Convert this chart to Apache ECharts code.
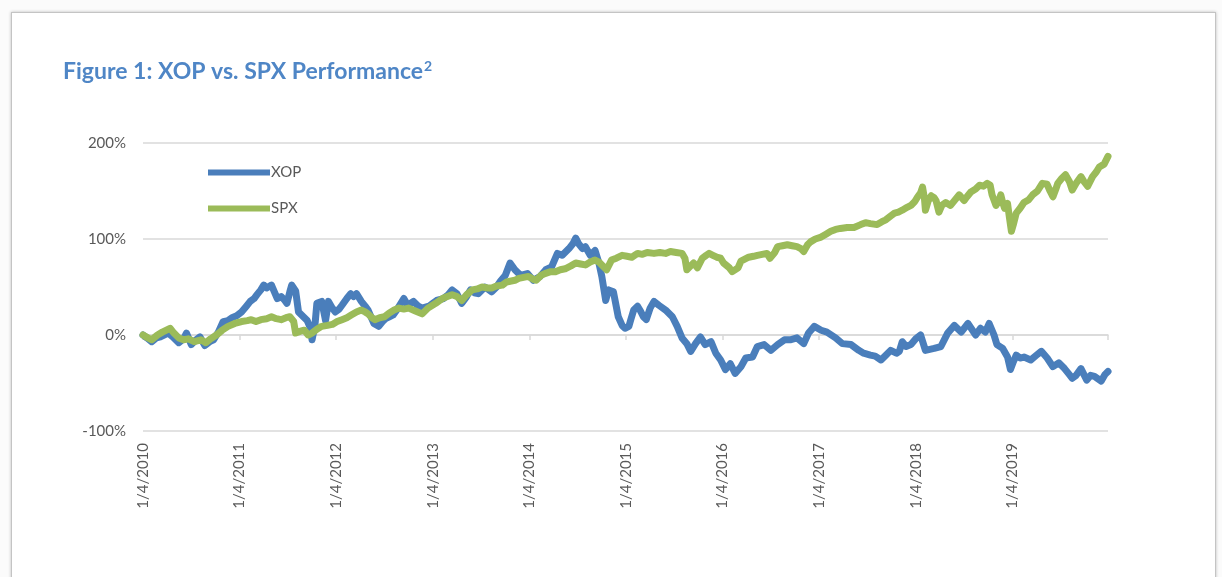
<!DOCTYPE html>
<html>
<head>
<meta charset="utf-8">
<script src="https://cdn.jsdelivr.net/npm/echarts@6/dist/echarts.min.js"></script>
<style>
  html, body { margin: 0; padding: 0; background: #fbfbfb; overflow: hidden; }
  .page {
    position: absolute; left: 11px; top: 12px; right: 6px; bottom: -8px;
    background: #fff; border: 1px solid #c4c4c4;
    box-shadow: 0 0 3px rgba(0, 0, 0, 0.25);
  }
  #chart { position: absolute; left: 0; top: 0; width: 1222px; height: 577px; }
</style>
</head>
<body>
<div class="page"></div>
<div id="chart"></div>
<script>
// x is years since 1/4/2010, y is cumulative return in %
const tickLabels = ['1/4/2010', '1/4/2011', '1/4/2012', '1/4/2013', '1/4/2014',
  '1/4/2015', '1/4/2016', '1/4/2017', '1/4/2018', '1/4/2019']

const xopPoints = [
  [0, 0], [0.04, -3], [0.09, -7], [0.14, -3], [0.18, -2], [0.26, 2], [0.31, -2], [0.37, -8],
  [0.42, -4], [0.45, 2], [0.5, -10], [0.55, -5], [0.59, -2], [0.64, -11], [0.69, -7], [0.73, -5],
  [0.78, 3], [0.83, 14], [0.88, 15], [0.92, 18], [0.97, 20], [1.02, 24], [1.07, 30], [1.11, 35],
  [1.15, 38], [1.18, 42], [1.22, 47], [1.25, 52], [1.28, 49], [1.30, 47], [1.33, 52], [1.36, 45],
  [1.39, 38], [1.43, 40], [1.46, 37], [1.49, 33], [1.52, 45], [1.54, 52], [1.58, 46], [1.61, 24],
  [1.66, 19], [1.70, 15], [1.73, 8], [1.75, -5], [1.78, 10], [1.80, 33], [1.85, 35], [1.89, 15],
  [1.92, 35], [1.96, 28], [1.99, 24], [2.03, 27], [2.06, 31], [2.11, 38], [2.15, 43], [2.18, 40],
  [2.21, 43], [2.26, 35], [2.30, 30], [2.33, 26], [2.39, 12], [2.44, 9], [2.48, 14], [2.51, 17],
  [2.55, 19], [2.59, 21], [2.64, 28], [2.70, 38], [2.74, 31], [2.80, 35], [2.85, 30], [2.89, 28],
  [2.96, 30], [3.00, 33], [3.04, 36], [3.11, 38], [3.16, 42], [3.20, 47], [3.25, 43], [3.30, 33],
  [3.35, 40], [3.39, 47], [3.43, 44], [3.47, 43], [3.54, 50], [3.61, 45], [3.66, 50], [3.70, 56],
  [3.75, 62], [3.80, 75], [3.85, 68], [3.91, 62], [3.98, 64], [4.04, 57], [4.11, 61], [4.17, 68],
  [4.23, 71], [4.29, 85], [4.34, 83], [4.41, 90], [4.45, 95], [4.48, 101], [4.51, 95], [4.55, 90],
  [4.58, 92], [4.63, 83], [4.68, 88], [4.72, 75], [4.75, 61], [4.79, 36], [4.82, 47], [4.87, 45],
  [4.92, 19], [4.96, 10], [4.99, 7], [5.03, 9], [5.05, 16], [5.08, 26], [5.12, 30], [5.15, 25],
  [5.18, 19], [5.21, 16], [5.25, 28], [5.29, 35], [5.34, 31], [5.41, 26], [5.48, 19], [5.53, 9],
  [5.58, -3], [5.63, -9], [5.67, -17], [5.72, -9], [5.77, -2], [5.82, -10], [5.88, -7], [5.93, -19],
  [5.98, -26], [6.03, -36], [6.08, -30], [6.13, -40], [6.19, -33], [6.24, -24], [6.31, -23], [6.36, -12],
  [6.43, -10], [6.50, -16], [6.57, -10], [6.64, -5], [6.70, -5], [6.77, -3], [6.84, -9], [6.89, 2],
  [6.95, 9], [7.02, 5], [7.08, 3], [7.17, -3], [7.24, -9], [7.33, -10], [7.41, -16], [7.46, -19],
  [7.53, -21], [7.58, -22], [7.64, -26], [7.69, -21], [7.74, -16], [7.80, -19], [7.83, -17], [7.86, -7],
  [7.90, -12], [7.95, -10], [8.00, -4], [8.05, 0], [8.10, -16], [8.19, -14], [8.26, -12], [8.33, 2],
  [8.40, 10], [8.44, 6], [8.47, 3], [8.54, 12], [8.62, 0], [8.67, 7], [8.72, 3], [8.76, 12],
  [8.81, 0], [8.84, -10], [8.90, -14], [8.95, -23], [8.98, -36], [9.01, -28], [9.04, -21], [9.08, -24],
  [9.12, -23], [9.19, -26], [9.25, -21], [9.30, -17], [9.36, -24], [9.42, -33], [9.48, -29], [9.54, -35],
  [9.58, -40], [9.62, -45], [9.66, -42], [9.71, -35], [9.77, -47], [9.81, -42], [9.85, -43], [9.92, -48],
  [9.96, -41], [9.99, -38]
]

const spxPoints = [
  [0, 0], [0.05, -3], [0.09, -5], [0.15, 0], [0.20, 3], [0.28, 7], [0.32, 2], [0.37, -3],
  [0.42, -5], [0.47, -4], [0.53, -7], [0.60, -5], [0.65, -8], [0.70, -4], [0.76, 0], [0.82, 5],
  [0.88, 9], [0.95, 12], [1.02, 14], [1.08, 15], [1.12, 16], [1.17, 14], [1.22, 16], [1.28, 17],
  [1.33, 19], [1.38, 17], [1.43, 16], [1.48, 18], [1.52, 19], [1.56, 14], [1.58, 2], [1.63, 4],
  [1.67, 5], [1.71, 0], [1.75, 2], [1.80, 6], [1.85, 9], [1.91, 10], [1.96, 11], [2.01, 14],
  [2.06, 16], [2.11, 18], [2.16, 21], [2.21, 24], [2.26, 26], [2.30, 24], [2.33, 22], [2.37, 18],
  [2.40, 16], [2.45, 18], [2.50, 19], [2.55, 23], [2.60, 26], [2.65, 28], [2.70, 27], [2.75, 28],
  [2.82, 25], [2.89, 22], [2.95, 28], [3.03, 33], [3.10, 38], [3.15, 40], [3.20, 42], [3.25, 40],
  [3.30, 36], [3.35, 42], [3.41, 47], [3.46, 48], [3.51, 50], [3.57, 49], [3.61, 49], [3.66, 51],
  [3.72, 52], [3.76, 55], [3.80, 56], [3.85, 57], [3.89, 59], [3.94, 60], [3.99, 61], [4.04, 58],
  [4.07, 57], [4.12, 62], [4.16, 64], [4.22, 66], [4.27, 66], [4.32, 68], [4.37, 69], [4.43, 72],
  [4.48, 75], [4.53, 74], [4.58, 73], [4.63, 76], [4.68, 78], [4.72, 76], [4.75, 73], [4.80, 68],
  [4.85, 78], [4.90, 80], [4.96, 83], [5.01, 82], [5.06, 81], [5.12, 85], [5.17, 84], [5.22, 86],
  [5.29, 85], [5.35, 86], [5.41, 85], [5.46, 87], [5.52, 86], [5.58, 85], [5.61, 80], [5.63, 68],
  [5.67, 72], [5.70, 75], [5.74, 70], [5.79, 80], [5.83, 83], [5.86, 85], [5.90, 83], [5.94, 81],
  [5.98, 80], [6.01, 75], [6.07, 70], [6.10, 66], [6.12, 64], [6.16, 70], [6.19, 77], [6.23, 79],
  [6.27, 81], [6.32, 82], [6.36, 83], [6.41, 84], [6.46, 85], [6.49, 80], [6.51, 78], [6.54, 86],
  [6.57, 92], [6.62, 93], [6.67, 94], [6.72, 93], [6.77, 92], [6.81, 90], [6.84, 87], [6.88, 94],
  [6.91, 97], [6.96, 100], [7.02, 102], [7.07, 105], [7.12, 108], [7.17, 110], [7.22, 111], [7.29, 112],
  [7.36, 112], [7.43, 115], [7.48, 117], [7.53, 116], [7.60, 115], [7.65, 118], [7.69, 120], [7.74, 124],
  [7.78, 127], [7.82, 128], [7.86, 130], [7.91, 133], [7.95, 135], [7.99, 139], [8.02, 144], [8.05, 148],
  [8.07, 154], [8.09, 142], [8.10, 130], [8.13, 140], [8.16, 145], [8.19, 143], [8.21, 140], [8.24, 128],
  [8.27, 135], [8.31, 138], [8.36, 135], [8.40, 140], [8.45, 146], [8.50, 140], [8.53, 144], [8.57, 149],
  [8.62, 152], [8.66, 156], [8.70, 155], [8.74, 158], [8.77, 156], [8.79, 146], [8.83, 135], [8.86, 140],
  [8.88, 146], [8.90, 138], [8.92, 132], [8.95, 137], [8.97, 122], [8.99, 108], [9.01, 115], [9.04, 127],
  [9.08, 132], [9.12, 138], [9.17, 141], [9.21, 146], [9.26, 150], [9.31, 158], [9.36, 157], [9.39, 150],
  [9.42, 144], [9.45, 152], [9.47, 158], [9.51, 163], [9.55, 167], [9.59, 160], [9.62, 151], [9.66, 158],
  [9.71, 165], [9.74, 160], [9.78, 155], [9.83, 165], [9.87, 170], [9.90, 175], [9.95, 178], [9.99, 186]
]

const font = 'Lato, "Open Sans", sans-serif'
const grey = '#595959'

const chart = echarts.init(document.getElementById('chart'))

chart.setOption({
  animation: false,
  title: {
    left: 58,
    top: 54,
    text: '{t|Figure 1: XOP vs. SPX Performance}{s|2}',
    textStyle: {
      rich: {
        t: { fontFamily: font, fontSize: 23, fontWeight: 'bold', color: '#4f86c6' },
        s: { fontFamily: font, fontSize: 14, fontWeight: 'bold', color: '#4f86c6', verticalAlign: 'top', padding: [0, 0, 11, 1] }
      }
    }
  },
  legend: {
    orient: 'vertical',
    left: 203,
    top: 160,
    itemWidth: 62,
    itemHeight: 14,
    itemGap: 21,
    icon: 'path://M0,4 L62,4 L62,10 L0,10 Z',
    textStyle: { fontFamily: font, fontSize: 15, color: grey, padding: [0, 0, 0, -4] },
    data: ['XOP', 'SPX']
  },
  grid: {
    left: 143,
    right: 114,
    top: 143,
    bottom: 146
  },
  xAxis: [{
    type: 'value',
    min: 0,
    max: 9.99,
    interval: 1,
    axisLine: { onZero: true, lineStyle: { color: '#d9d9d9', width: 1.5 } },
    axisTick: { show: true, length: 5, lineStyle: { color: '#d9d9d9', width: 1.5 } },
    axisLabel: { show: false },
    splitLine: { show: false }
  }, {
    type: 'value',
    position: 'bottom',
    min: 0,
    max: 9.99,
    interval: 1,
    axisLine: { show: false, onZero: false },
    axisTick: { show: false },
    splitLine: { show: false },
    axisLabel: {
      rotate: 90,
      margin: 12,
      fontFamily: font,
      fontSize: 15,
      color: grey,
      formatter: v => (Number.isInteger(v) && tickLabels[v]) ? tickLabels[v] : ''
    }
  }],
  yAxis: {
    type: 'value',
    min: -100,
    max: 200,
    interval: 100,
    axisLine: { show: false },
    axisTick: { show: false },
    axisLabel: {
      margin: 17,
      fontFamily: font,
      fontSize: 15,
      color: grey,
      formatter: v => v + '%'
    },
    splitLine: { lineStyle: { color: '#d9d9d9', width: 1.5 } }
  },
  series: [{
    name: 'XOP',
    type: 'line',
    xAxisIndex: 0,
    data: xopPoints,
    showSymbol: false,
    color: '#4a7ebb',
    lineStyle: { width: 7, cap: 'round', join: 'round' },
    z: 2
  }, {
    name: 'SPX',
    type: 'line',
    xAxisIndex: 0,
    data: spxPoints,
    showSymbol: false,
    color: '#9bbb59',
    lineStyle: { width: 7, cap: 'round', join: 'round' },
    z: 3
  }]
})
</script>
</body>
</html>
